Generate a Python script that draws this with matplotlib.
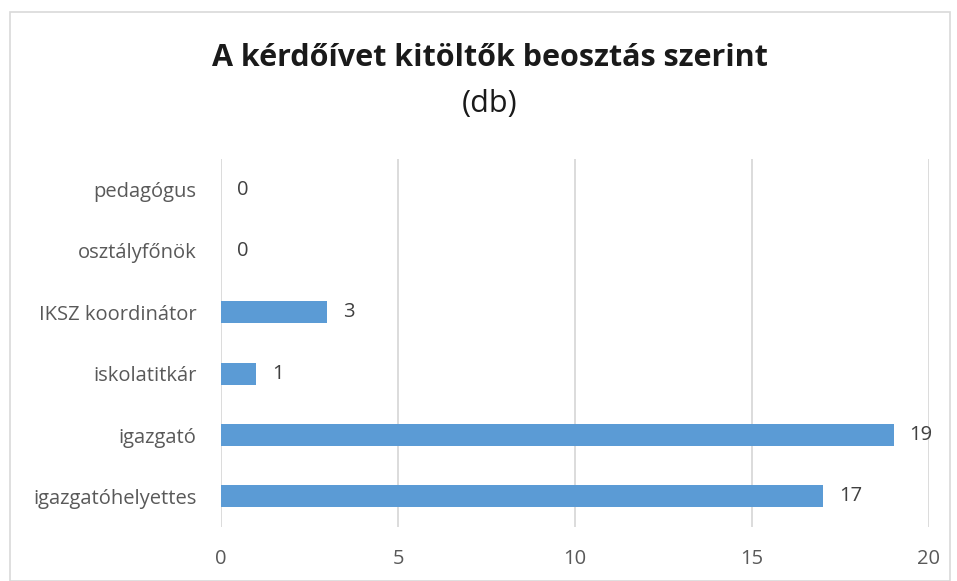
import numpy as np
import matplotlib.pyplot as plt
from matplotlib.patches import Rectangle

plt.rcParams['font.family'] = ['Open Sans', 'DejaVu Sans']

# adatok
categories = ['igazgatóhelyettes', 'igazgató', 'iskolatitkár',
              'IKSZ koordinátor', 'osztályfőnök', 'pedagógus']
counts = [17, 19, 1, 3, 0, 0]
xticks = [0, 5, 10, 15, 20]

fig = plt.figure(figsize=(9.57, 5.81), dpi=100)
ax = fig.add_axes([221 / 957, 1 - 527 / 581, 708 / 957, 368 / 581])

# keret a diagram körül
fig.patches.append(Rectangle((10 / 957, 0), 940 / 957, 1 - 12 / 581,
                             transform=fig.transFigure, fill=False,
                             edgecolor='#d9d9d9', linewidth=1.2))

y = np.arange(len(categories))
bars = ax.barh(y, counts, height=0.36, color='#5b9bd5', zorder=3)
for yi, v in zip(y, counts):
    ax.text(v + 0.45, yi, str(v), va='center', ha='left',
            fontsize=14.5, color='#404040')

ax.set_xlim(0, 20)
ax.set_ylim(-0.5, len(categories) - 0.5)
ax.set_xticks(xticks)
ax.set_yticks(y)
ax.set_yticklabels(categories)
ax.tick_params(axis='both', length=0, labelsize=14.5, colors='#595959')
ax.tick_params(axis='x', pad=16)
ax.tick_params(axis='y', pad=17.5)
ax.grid(axis='x', color='#d9d9d9', linewidth=1.3, zorder=0)
for s in ax.spines.values():
    s.set_visible(False)

fig.text(490 / 957, 1 - 58 / 581, 'A kérdőívet kitöltők beosztás szerint',
         ha='center', va='center', fontsize=22, fontweight='bold', color='#1a1a1a')
fig.text(490 / 957, 1 - 104 / 581, '(db)', ha='center', va='center',
         fontsize=22, color='#1a1a1a')

fig.savefig('out.png', dpi=100)
plt.close()
